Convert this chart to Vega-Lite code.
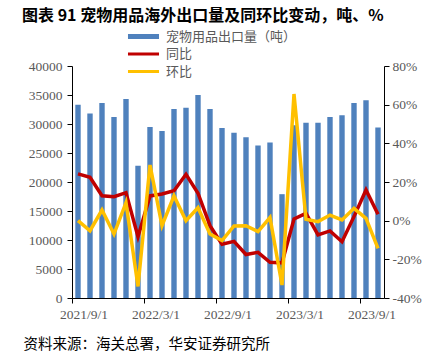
{
  "$schema": "https://vega.github.io/schema/vega-lite/v6.json",
  "width": 312,
  "height": 232,
  "autosize": "none",
  "padding": {"left": 72, "top": 66, "right": 50, "bottom": 53},
  "background": "white",
  "title": {
    "text": "图表 91 宠物用品海外出口量及同环比变动，吨、%",
    "anchor": "start",
    "frame": "group",
    "dx": -50,
    "font": "Noto Sans CJK SC",
    "fontSize": 16,
    "fontWeight": "bold",
    "color": "#000000",
    "offset": 6
  },
  "data": {
    "values": [
      {"month": "2021/9/1", "qty": 33300, "同比": 24.2, "环比": 0},
      {"month": "2021/10/1", "qty": 31800, "同比": 22.4, "环比": -5.2},
      {"month": "2021/11/1", "qty": 33600, "同比": 12.9, "环比": 5.5},
      {"month": "2021/12/1", "qty": 31200, "同比": 12.4, "环比": -6.9},
      {"month": "2022/1/1", "qty": 34300, "同比": 14.5, "环比": 9.3},
      {"month": "2022/2/1", "qty": 22800, "同比": -8.3, "环比": -34},
      {"month": "2022/3/1", "qty": 29500, "同比": 12.8, "环比": 28.8},
      {"month": "2022/4/1", "qty": 28800, "同比": 13.8, "环比": -2.6},
      {"month": "2022/5/1", "qty": 32600, "同比": 15.5, "环比": 12.8},
      {"month": "2022/6/1", "qty": 32800, "同比": 24.0, "环比": 0},
      {"month": "2022/7/1", "qty": 35000, "同比": 14.2, "环比": 6.7},
      {"month": "2022/8/1", "qty": 32600, "同比": -2.6, "环比": -6.9},
      {"month": "2022/9/1", "qty": 29300, "同比": -12.2, "环比": -10.3},
      {"month": "2022/10/1", "qty": 28500, "同比": -10.7, "环比": -2.7},
      {"month": "2022/11/1", "qty": 27700, "同比": -17.5, "环比": -2.6},
      {"month": "2022/12/1", "qty": 26300, "同比": -16.4, "环比": -5.7},
      {"month": "2023/1/1", "qty": 26800, "同比": -21.5, "环比": 1.6},
      {"month": "2023/2/1", "qty": 17900, "同比": -21.8, "环比": -33.3},
      {"month": "2023/3/1", "qty": 29800, "同比": 0.9, "环比": 65.5},
      {"month": "2023/4/1", "qty": 30200, "同比": 3.8, "环比": 0.7},
      {"month": "2023/5/1", "qty": 30200, "同比": -7.4, "环比": -0.5},
      {"month": "2023/6/1", "qty": 31200, "同比": -5.3, "环比": 2.9},
      {"month": "2023/7/1", "qty": 31500, "同比": -10.9, "环比": 0.4},
      {"month": "2023/8/1", "qty": 33600, "同比": 2.1, "环比": 6.4},
      {"month": "2023/9/1", "qty": 34100, "同比": 15.9, "环比": 1.2},
      {"month": "2023/10/1", "qty": 29400, "同比": 3.3, "环比": -14.3}
    ]
  },
  "config": {
    "view": {"stroke": null},
    "axis": {
      "grid": false,
      "domainColor": "#000000",
      "tickColor": "#000000",
      "tickSize": 5,
      "labelColor": "#595959",
      "labelFont": "Liberation Serif",
      "labelFontSize": 13.5
    }
  },
  "encoding": {
    "x": {
      "field": "month",
      "type": "nominal",
      "sort": null,
      "scale": {"paddingInner": 0, "paddingOuter": 0},
      "axis": {
        "values": ["2021/9/1", "2022/3/1", "2022/9/1", "2023/3/1", "2023/9/1"],
        "bandPosition": 0,
        "labelOffset": 6,
        "labelAngle": 0,
        "labelPadding": 4,
        "labelOverlap": false,
        "labelFlush": false,
        "labelFont": "Liberation Serif",
        "labelFontSize": 13.5,
        "title": "资料来源：海关总署，华安证券研究所",
        "titleFont": "Noto Sans CJK SC",
        "titleFontSize": 14.5,
        "titleFontWeight": "normal",
        "titleColor": "#000000",
        "titleAnchor": "start",
        "titleAlign": "left",
        "titleBaseline": "middle",
        "titleX": -49,
        "titleY": 46
      }
    }
  },
  "resolve": {"scale": {"y": "independent"}},
  "layer": [
    {
      "mark": {"type": "bar", "width": {"band": 0.45}},
      "encoding": {
        "y": {
          "field": "qty",
          "type": "quantitative",
          "scale": {"domain": [0, 40000]},
          "axis": {
            "orient": "left",
            "values": [0, 5000, 10000, 15000, 20000, 25000, 30000, 35000, 40000],
            "format": "d",
            "labelPadding": 5,
            "labelFont": "Liberation Serif",
            "labelFontSize": 13.5,
            "title": null
          }
        },
        "color": {
          "datum": "宠物用品出口量（吨）",
          "scale": {
            "domain": ["宠物用品出口量（吨）", "同比", "环比"],
            "range": ["#4F81BD", "#C00000", "#FFC000"]
          },
          "legend": {
            "orient": "none",
            "legendX": 65,
            "legendY": -36,
            "title": null,
            "direction": "vertical",
            "symbolType": "M-3,-0.4H3V0.4H-3Z",
            "symbolSize": 107,
            "symbolStrokeWidth": 0,
            "labelFont": "Noto Sans CJK SC",
            "labelFontSize": 13,
            "labelColor": "#595959",
            "labelOffset": 16,
            "rowPadding": 3.5,
            "encode": {
              "symbols": {
                "update": {
                  "fill": {"scale": "color", "field": "value"},
                  "shape": {"signal": "datum.value === '宠物用品出口量（吨）' ? 'M-3,-0.48H3V0.48H-3Z' : 'M-3,-0.3H3V0.3H-3Z'"}
                }
              }
            }
          }
        }
      }
    },
    {
      "transform": [{"fold": ["同比", "环比"], "as": ["series", "pct"]}],
      "mark": {"type": "line", "strokeWidth": 3.5},
      "encoding": {
        "y": {
          "field": "pct",
          "type": "quantitative",
          "scale": {"domain": [-40, 80]},
          "axis": {
            "orient": "right",
            "values": [-40, -20, 0, 20, 40, 60, 80],
            "labelExpr": "datum.value + '%'",
            "labelPadding": 3,
            "labelFont": "Liberation Serif",
            "labelFontSize": 13.5,
            "title": null
          }
        },
        "color": {"field": "series", "type": "nominal", "legend": {"title": null}}
      }
    }
  ]
}
